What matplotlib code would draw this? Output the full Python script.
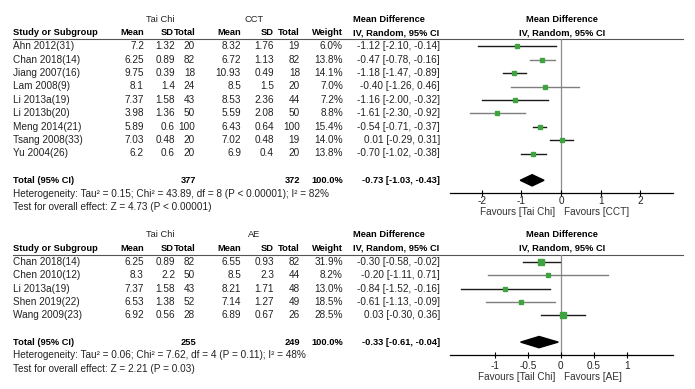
import numpy as np
import matplotlib
matplotlib.use("Agg")
import matplotlib.pyplot as plt

plt.rcParams["font.family"] = ["Liberation Sans", "DejaVu Sans"]
FS = 7.2     # regular text
FB = 6.7     # bold text

# ---- panel 1: Tai Chi vs CCT ----
studies1 = ["Ahn 2012(31)", "Chan 2018(14)", "Jiang 2007(16)", "Lam 2008(9)", "Li 2013a(19)",
            "Li 2013b(20)", "Meng 2014(21)", "Tsang 2008(33)", "Yu 2004(26)"]
tc_mean1 = ["7.2", "6.25", "9.75", "8.1", "7.37", "3.98", "5.89", "7.03", "6.2"]
tc_sd1 = ["1.32", "0.89", "0.39", "1.4", "1.58", "1.36", "0.6", "0.48", "0.6"]
tc_n1 = [20, 82, 18, 24, 43, 50, 100, 20, 20]
c_mean1 = ["8.32", "6.72", "10.93", "8.5", "8.53", "5.59", "6.43", "7.02", "6.9"]
c_sd1 = ["1.76", "1.13", "0.49", "1.5", "2.36", "2.08", "0.64", "0.48", "0.4"]
c_n1 = [19, 82, 18, 20, 44, 50, 100, 19, 20]
weight1 = [6.0, 13.8, 14.1, 7.0, 7.2, 8.8, 15.4, 14.0, 13.8]
md1 = [-1.12, -0.47, -1.18, -0.40, -1.16, -1.61, -0.54, 0.01, -0.70]
lo1 = [-2.10, -0.78, -1.47, -1.26, -2.00, -2.30, -0.71, -0.29, -1.02]
hi1 = [-0.14, -0.16, -0.89, 0.46, -0.32, -0.92, -0.37, 0.31, -0.38]
total1 = (377, 372, -0.73, -1.03, -0.43)
het1 = "Heterogeneity: Tau\u00b2 = 0.15; Chi\u00b2 = 43.89, df = 8 (P < 0.00001); I\u00b2 = 82%"
test1 = "Test for overall effect: Z = 4.73 (P < 0.00001)"
ticks1 = [-2, -1, 0, 1, 2]

# ---- panel 2: Tai Chi vs AE ----
studies2 = ["Chan 2018(14)", "Chen 2010(12)", "Li 2013a(19)", "Shen 2019(22)", "Wang 2009(23)"]
tc_mean2 = ["6.25", "8.3", "7.37", "6.53", "6.92"]
tc_sd2 = ["0.89", "2.2", "1.58", "1.38", "0.56"]
tc_n2 = [82, 50, 43, 52, 28]
c_mean2 = ["6.55", "8.5", "8.21", "7.14", "6.89"]
c_sd2 = ["0.93", "2.3", "1.71", "1.27", "0.67"]
c_n2 = [82, 44, 48, 49, 26]
weight2 = [31.9, 8.2, 13.0, 18.5, 28.5]
md2 = [-0.30, -0.20, -0.84, -0.61, 0.03]
lo2 = [-0.58, -1.11, -1.52, -1.13, -0.30]
hi2 = [-0.02, 0.71, -0.16, -0.09, 0.36]
total2 = (255, 249, -0.33, -0.61, -0.04)
het2 = "Heterogeneity: Tau\u00b2 = 0.06; Chi\u00b2 = 7.62, df = 4 (P = 0.11); I\u00b2 = 48%"
test2 = "Test for overall effect: Z = 2.21 (P = 0.03)"
ticks2 = [-1, -0.5, 0, 0.5, 1]

W, H = 695, 389
GREEN = "#3fa33f"
DARK = "#1a1a1a"
GRAY = "#7f7f7f"
TXT = "#222222"
STEP = 13.4

fig = plt.figure(figsize=(W / 100, H / 100), dpi=100)


def px_axes(x0, y0, x1, y1):
    return fig.add_axes([x0 / W, 1 - y1 / H, (x1 - x0) / W, (y1 - y0) / H])


def ci(m, l, h):
    return "%.2f [%.2f, %.2f]" % (m, l, h)


def panel(base, ytop, ybot, ctrl, studies, tcm, tcs, tcn, cm, cs, cn, wt, md, lo, hi,
          total, het, test, xlim, ticks, line_cols, max_ms, fav_left, fav_right, fav_dy,
          tick_pad):
    # text layer: x in pixels, y in rows
    tx = px_axes(0, ytop, W, ybot)
    tx.set_xlim(0, W)
    tx.set_ylim((ybot - base) / STEP, (ytop - base) / STEP)
    tx.axis("off")
    n = len(studies)
    under = -0.52
    tx.text(160, -2, "Tai Chi", ha="center", va="center", fontsize=FB, color=TXT)
    tx.text(254, -2, ctrl, ha="center", va="center", fontsize=FB, color=TXT)
    tx.text(353, -2, "Mean Difference", ha="left", va="center", fontsize=FB, weight="bold")
    tx.text(562, -2, "Mean Difference", ha="center", va="center", fontsize=FB, weight="bold")
    heads = [(13, "Study or Subgroup", "left"), (144, "Mean", "right"), (174, "SD", "right"),
             (196, "Total", "right"), (241, "Mean", "right"), (274, "SD", "right"),
             (300, "Total", "right"), (343, "Weight", "right"),
             (353, "IV, Random, 95% CI", "left"), (562, "IV, Random, 95% CI", "center")]
    for x, s, ha in heads:
        tx.text(x, -1, s, ha=ha, va="center", fontsize=FB, weight="bold")
    tx.plot([13, 683], [under, under], color="#555555", lw=0.8)
    for i in range(n):
        cols = [(13, studies[i], "left"), (144, tcm[i], "right"), (175, tcs[i], "right"),
                (195, str(tcn[i]), "right"), (241, cm[i], "right"), (274, cs[i], "right"),
                (300, str(cn[i]), "right"), (343, "%.1f%%" % wt[i], "right"),
                (440, ci(md[i], lo[i], hi[i]), "right")]
        for x, s, ha in cols:
            tx.text(x, i, s, ha=ha, va="center", fontsize=FS, color=TXT)
    tr = n + 1
    for x, s, ha in [(13, "Total (95% CI)", "left"), (196, str(total[0]), "right"),
                     (300, str(total[1]), "right"), (343, "100.0%", "right"),
                     (440, ci(total[2], total[3], total[4]), "right")]:
        tx.text(x, tr, s, ha=ha, va="center", fontsize=FB, weight="bold")
    tx.text(13, tr + 1, het, ha="left", va="center", fontsize=FS, color=TXT)
    tx.text(13, tr + 2, test, ha="left", va="center", fontsize=FS, color=TXT)
    tx.text(555, tr + fav_dy, fav_left, ha="right", va="center", fontsize=FS, color="#333333")
    tx.text(564, tr + fav_dy, fav_right, ha="left", va="center", fontsize=FS, color="#333333")

    # forest layer: x in data units, y in rows
    axis_px = base + STEP * (tr + 0.95)
    ax = px_axes(450, base + STEP * under, 673, axis_px)
    ax.set_xlim(*xlim)
    ax.set_ylim((axis_px - base) / STEP, under)
    for side in ["top", "left", "right"]:
        ax.spines[side].set_visible(False)
    ax.spines["bottom"].set_linewidth(0.9)
    ax.set_yticks([])
    ax.set_xticks(ticks)
    ax.set_xticklabels([("%g" % t) for t in ticks], fontsize=FS, color=TXT)
    ax.tick_params(axis="x", direction="inout", length=4, width=0.8, pad=tick_pad)
    ax.patch.set_alpha(0)
    ax.axvline(0, color="#8c8c8c", lw=0.9, zorder=1)
    wmax = max(wt)
    for i in range(n):
        ax.plot([lo[i], hi[i]], [i, i], color=line_cols[i], lw=1.0, zorder=2)
        ms = max(2.5, max_ms * np.sqrt(wt[i] / wmax))
        ax.plot(md[i], i, marker="s", ms=ms, color=GREEN, mec=GREEN, zorder=3)
    dh = 0.42
    ax.fill([total[3], total[2], total[4], total[2]], [tr, tr - dh, tr, tr + dh],
            color="black", zorder=3)


panel(46.3, 0, 216, "CCT", studies1, tc_mean1, tc_sd1, tc_n1, c_mean1, c_sd1, c_n1,
      weight1, md1, lo1, hi1, total1, het1, test1, (-2.8, 2.82), ticks1,
      [DARK, GRAY, DARK, GRAY, DARK, GRAY, DARK, DARK, DARK], 3.4,
      "Favours [Tai Chi]", "Favours [CCT]", 2.35, 0.0)
panel(261.7, 218, H, "AE", studies2, tc_mean2, tc_sd2, tc_n2, c_mean2, c_sd2, c_n2,
      weight2, md2, lo2, hi2, total2, het2, test2, (-1.68, 1.70), ticks2,
      [DARK, GRAY, DARK, GRAY, DARK], 4.6,
      "Favours [Tail Chi]", "Favours [AE]", 2.6, 2.2)

fig.savefig("out.png", dpi=100)
